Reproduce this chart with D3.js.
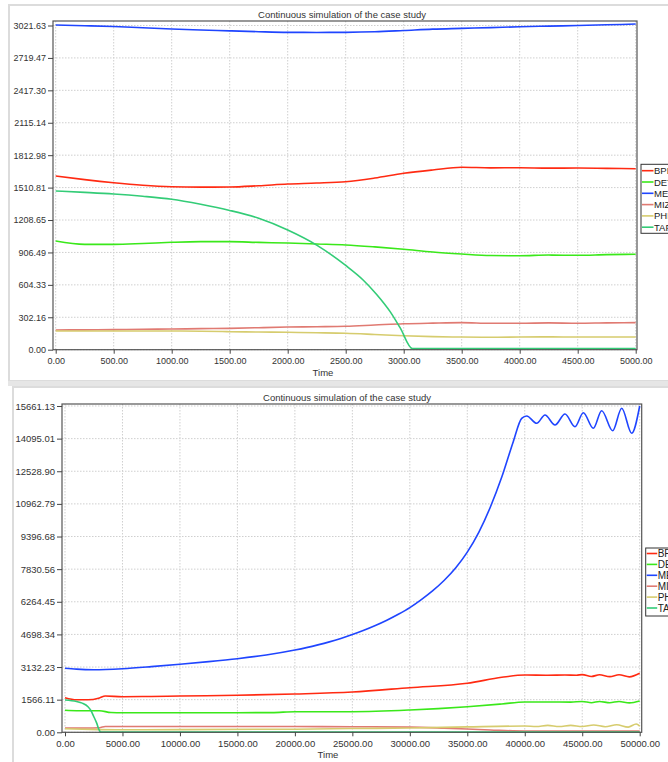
<!DOCTYPE html>
<html>
<head>
<meta charset="utf-8">
<script src="https://cdn.jsdelivr.net/npm/d3@7"></script>
<style>
  html, body { margin: 0; padding: 0; background: #fff; }
  svg { display: block; font-family: "Liberation Sans", Arial, sans-serif; }
</style>
</head>
<body>
<svg id="chart" width="668" height="762"></svg>
<script>
// ---------- data ----------
const seriesNames = ["BPL", "DET", "MEZ", "MIZ", "PHR", "TAP"];
const seriesColors = ["#ff2a12", "#3ae81a", "#1f45ff", "#e07a72", "#d6cc6e", "#33cc77"];
const chartTitle = "Continuous simulation of the case study";
const xAxisLabel = "Time";

// Panel 1 (0 - 5000)
const topXTickLabels = ["0.00","500.00","1000.00","1500.00","2000.00","2500.00","3000.00","3500.00","4000.00","4500.00","5000.00"];
const topYTickLabels = ["0.00","302.16","604.33","906.49","1208.65","1510.81","1812.98","2115.14","2417.30","2719.47","3021.63"];
const topTime = [0,250,500,750,1000,1250,1500,1750,2000,2250,2500,2750,3000,3250,3500,3750,4000,4250,4500,4750,5000];
const topBPL = [1619,1585,1556,1533,1519,1515,1516,1528,1544,1553,1566,1600,1644,1675,1700,1695,1696,1692,1693,1690,1687];
const topDET = [1013,982,982,990,1001,1007,1007,1000,994,985,976,958,936,910,892,878,876,882,880,886,889];
const topMEZ = [3026,3020,3012,3000,2989,2980,2972,2964,2958,2957,2958,2963,2975,2988,2995,3002,3010,3016,3021,3028,3035];
const topMIZ = [184,185,187,190,193,196,199,205,211,214,218,230,242,248,252,246,246,250,246,250,252];
const topPHR = [174,174,174,174,174,172,168,165,162,158,153,142,130,122,118,116,118,120,118,119,118];
const topTAPTime = [0,250,500,750,1000,1250,1500,1750,2000,2250,2500,2650,2767,2883,2969,3075,3200,5000];
const topTAP = [1479,1466,1451,1430,1402,1355,1298,1225,1116,975,785,650,515,355,205,10,10,10];

// Panel 2 (0 - 50000)
const botXTickLabels = ["0.00","5000.00","10000.00","15000.00","20000.00","25000.00","30000.00","35000.00","40000.00","45000.00","50000.00"];
const botYTickLabels = ["0.00","1566.11","3132.23","4698.34","6264.45","7830.56","9396.68","10962.79","12528.90","14095.01","15661.13"];
const botBPLTime = [0,1000,2000,3000,3500,5000,7500,10000,15000,20000,25000,30000,35000,38000,40000,42000,43500,44500,45000,45800,46500,47400,48200,49100,50000];
const botBPL = [1661,1560,1560,1650,1740,1709,1720,1742,1776,1838,1934,2141,2352,2640,2750,2740,2750,2740,2770,2680,2760,2670,2760,2660,2832];
const botDETTime = [0,1000,3000,4000,5000,10000,15000,18000,20000,25000,30000,35000,38000,40000,42000,44000,45000,45800,46500,47400,48200,49100,50000];
const botDET = [1056,1037,1037,950,941,941,941,945,989,989,1070,1229,1360,1454,1454,1450,1480,1420,1480,1420,1480,1410,1502];
const botMEZTime = [0,1000,2500,5000,7500,10000,12500,15000,17500,
  20000,21000,22000,23000,24000,25000,26000,27000,28000,29000,30000,31000,32000,33000,34000,35000,36000,37000,38000,39000,
  39734,40168,41038,41760,42631,43501,44371,45094,45964,46694,47650,48433,49303,50000];
const botMEZ = [3072,3030,3005,3053,3150,3264,3390,3533,3710,
  3950,4065,4195,4340,4505,4690,4895,5125,5380,5665,5985,6370,6800,7300,7900,8650,9600,10800,12250,13950,
  15070,15181,14831,15229,14749,15277,14668,15340,14590,15436,14476,15551,14351,15661];
const botMIZTime = [0,3000,3500,10000,20000,25000,30000,33000,37000,40000,50000];
const botMIZ = [200,220,280,280,275,269,250,200,110,62,55];
const botPHRTime = [0,3000,5000,10000,20000,25000,30000,35000,40000,41000,42000,43000,44000,45000,46000,47000,48000,49000,49700,50000];
const botPHR = [170,130,120,130,150,180,206,260,300,280,330,280,330,280,350,270,360,250,400,300];
const botTAPTime = [0,1000,1500,2000,2250,2500,2750,3000,3100,50000];
const botTAP = [1550,1480,1400,1229,1050,760,450,80,10,10];

// ---------- drawing ----------
const svg = d3.select("#chart");

// panel frames
svg.append("rect").attr("x", 9).attr("y", 5).attr("width", 700).attr("height", 376)
  .attr("fill", "#fff").attr("stroke", "#dcdcdc").attr("stroke-width", 2);
svg.append("rect").attr("x", 8).attr("y", 381).attr("width", 700).attr("height", 5)
  .attr("fill", "#e6e6e6");
svg.append("rect").attr("x", 13).attr("y", 387).attr("width", 700).attr("height", 400)
  .attr("fill", "#fff").attr("stroke", "#dcdcdc").attr("stroke-width", 2);

function zip(t, v) { return t.map((d, i) => [d, v[i]]); }

function drawPanel(cfg) {
  const g = svg.append("g");
  const x = d3.scaleLinear().domain([0, cfg.xMax]).range([cfg.x0, cfg.x1]);
  const y = d3.scaleLinear().domain([0, cfg.yDomMax]).range([cfg.plotBottom, cfg.plotTop]);
  const xTicks = cfg.xTickLabels.map(Number);
  const yTicks = cfg.yTickLabels.map(Number);

  // grid
  g.append("g").selectAll("line").data(xTicks).join("line")
    .attr("x1", d => x(d)).attr("x2", d => x(d))
    .attr("y1", cfg.plotTop).attr("y2", cfg.plotBottom)
    .attr("stroke", "#cfcfcf").attr("stroke-width", 1).attr("stroke-dasharray", "1.5,1.5");
  g.append("g").selectAll("line").data(yTicks).join("line")
    .attr("x1", cfg.plotLeft).attr("x2", cfg.plotRight)
    .attr("y1", d => y(d)).attr("y2", d => y(d))
    .attr("stroke", "#cfcfcf").attr("stroke-width", 1).attr("stroke-dasharray", "1.5,1.5");

  // lines
  const line = d3.line().x(d => x(d[0])).y(d => y(d[1])).curve(d3.curveMonotoneX);
  cfg.series.forEach((s, i) => {
    g.append("path").datum(s).attr("d", line)
      .attr("fill", "none").attr("stroke", seriesColors[i]).attr("stroke-width", 1.6)
      .attr("stroke-linejoin", "round");
  });

  // border
  g.append("rect").attr("x", cfg.plotLeft).attr("y", cfg.plotTop)
    .attr("width", cfg.plotRight - cfg.plotLeft).attr("height", cfg.plotBottom - cfg.plotTop)
    .attr("fill", "none").attr("stroke", "#555").attr("stroke-width", 1.2);

  // axes
  const xAxis = d3.axisBottom(x).tickValues(xTicks)
    .tickFormat((d, i) => cfg.xTickLabels[i]).tickSize(4).tickPadding(4);
  const gx = g.append("g").attr("transform", `translate(0,${cfg.plotBottom})`).call(xAxis);
  gx.select(".domain").remove();
  gx.selectAll("line").attr("stroke", "#444");
  gx.selectAll("text").attr("font-size", cfg.fontSize).attr("fill", "#333")
    .attr("font-family", "Liberation Sans, Arial, sans-serif");

  const yAxis = d3.axisLeft(y).tickValues(yTicks)
    .tickFormat((d, i) => cfg.yTickLabels[i]).tickSize(5).tickPadding(2);
  const gy = g.append("g").attr("transform", `translate(${cfg.plotLeft},0)`).call(yAxis);
  gy.select(".domain").remove();
  gy.selectAll("line").attr("stroke", "#444");
  gy.selectAll("text").attr("font-size", cfg.fontSize).attr("fill", "#333")
    .attr("font-family", "Liberation Sans, Arial, sans-serif");

  // title
  g.append("text").attr("x", cfg.titleX).attr("y", cfg.titleY).attr("text-anchor", "middle")
    .attr("font-size", 9.5).attr("fill", "#333").text(chartTitle);
  // x label
  g.append("text").attr("x", cfg.xLabelX).attr("y", cfg.xLabelY).attr("text-anchor", "middle")
    .attr("font-size", 9.5).attr("fill", "#333").text(xAxisLabel);

  // legend
  const lg = g.append("g");
  lg.append("rect").attr("x", cfg.legX).attr("y", cfg.legY).attr("width", 80).attr("height", cfg.legH)
    .attr("fill", "#fff").attr("stroke", "#333").attr("stroke-width", 1);
  seriesNames.forEach((n, i) => {
    const yy = cfg.legFirst + i * cfg.legStep;
    lg.append("line").attr("x1", cfg.legX + 1).attr("x2", cfg.legX + cfg.legLine)
      .attr("y1", yy).attr("y2", yy).attr("stroke", seriesColors[i]).attr("stroke-width", 1.6);
    lg.append("text").attr("x", cfg.legX + cfg.legLine + 0.5).attr("y", yy + 3.5)
      .attr("font-size", cfg.legFont).attr("fill", "#222").text(n);
  });
}

drawPanel({
  xMax: 5000, x0: 55.7, x1: 635.7,
  plotLeft: 53, plotRight: 637, plotTop: 21, plotBottom: 349.7,
  yDomMax: 3063.6,
  xTickLabels: topXTickLabels, yTickLabels: topYTickLabels,
  fontSize: 9,
  series: [zip(topTime, topBPL), zip(topTime, topDET), zip(topTime, topMEZ),
           zip(topTime, topMIZ), zip(topTime, topPHR), zip(topTAPTime, topTAP)],
  titleX: 342, titleY: 18, xLabelX: 323, xLabelY: 375.5,
  legX: 641, legY: 164.3, legH: 69, legFirst: 170.7, legStep: 11.3, legLine: 12.5, legFont: 9.5
});

drawPanel({
  xMax: 50000, x0: 65, x1: 639.7,
  plotLeft: 62, plotRight: 641.7, plotTop: 404, plotBottom: 732.3,
  yDomMax: 15757,
  xTickLabels: botXTickLabels, yTickLabels: botYTickLabels,
  fontSize: 9.5,
  series: [zip(botBPLTime, botBPL), zip(botDETTime, botDET), zip(botMEZTime, botMEZ),
           zip(botMIZTime, botMIZ), zip(botPHRTime, botPHR), zip(botTAPTime, botTAP)],
  titleX: 347, titleY: 400.5, xLabelX: 328, xLabelY: 757.5,
  legX: 645.7, legY: 548, legH: 68, legFirst: 553.5, legStep: 10.9, legLine: 11.5, legFont: 10
});
</script>
</body>
</html>
